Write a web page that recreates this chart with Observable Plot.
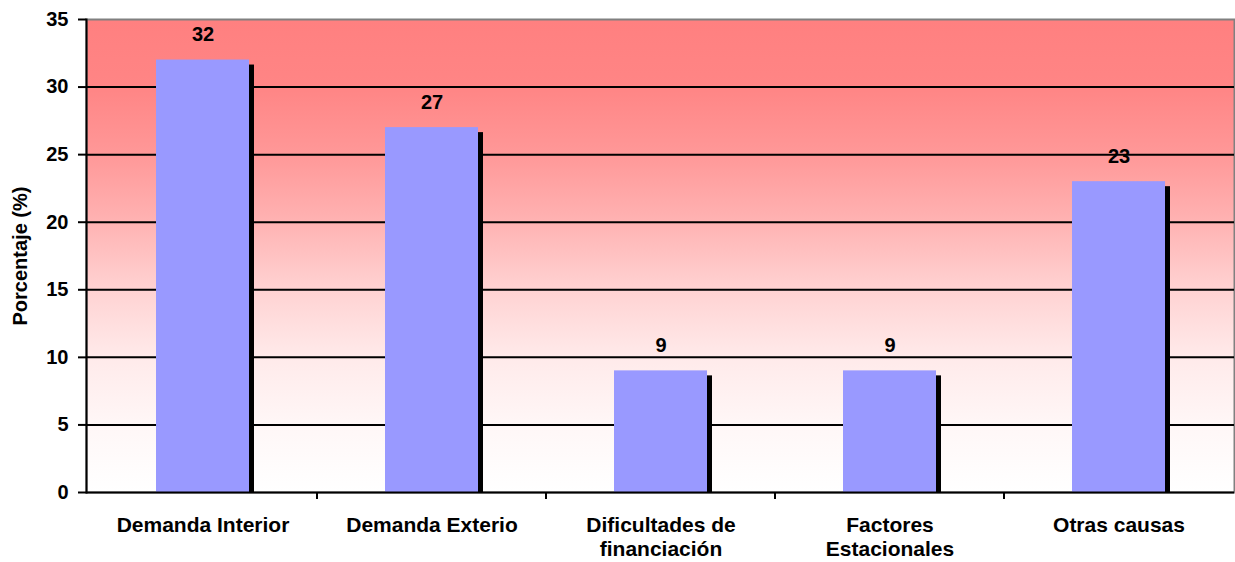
<!DOCTYPE html>
<html><head><meta charset="utf-8">
<script src="https://cdn.jsdelivr.net/npm/d3@7"></script>
<script src="https://cdn.jsdelivr.net/npm/@observablehq/plot@0.6"></script>
<style>body{margin:0;background:#fff}</style>
</head><body><div id="chart"></div>
<script>
const categories = ["Demanda Interior", "Demanda Exterio", "Dificultades de financiación", "Factores Estacionales", "Otras causas"];
const categoryLabels = ["Demanda Interior", "Demanda Exterio", "Dificultades de\nfinanciación", "Factores\nEstacionales", "Otras causas"];
const values = [32, 27, 9, 9, 23];
const yTicks = [0, 5, 10, 15, 20, 25, 30, 35];
const gridTicks = [5, 10, 15, 20, 25, 30];

const data = categories.map((c, i) => ({cat: c, value: values[i]}));
const labelMap = new Map(categories.map((c, i) => [c, categoryLabels[i]]));
const NS = "http://www.w3.org/2000/svg";

function defsMark() {
  const g = document.createElementNS(NS, "g");
  g.innerHTML = `<defs><linearGradient id="bgGrad" x1="0" y1="0" x2="0" y2="1">
    <stop offset="0" stop-color="#FF8080"/>
    <stop offset="0.143" stop-color="#FF8585"/>
    <stop offset="0.286" stop-color="#FF9898"/>
    <stop offset="0.43" stop-color="#FFB3B3"/>
    <stop offset="0.57" stop-color="#FFD2D2"/>
    <stop offset="0.714" stop-color="#FFEAEA"/>
    <stop offset="0.857" stop-color="#FFF7F7"/>
    <stop offset="1" stop-color="#FFFFFF"/></linearGradient></defs>`;
  return g;
}

function boundaryTicks(index, scales) {
  const {x, y} = scales;
  const g = document.createElementNS(NS, "g");
  const bw = x.bandwidth();
  const y0 = y(0);
  for (let i = 1; i < categories.length; i++) {
    const xb = (x(categories[i - 1]) + bw + x(categories[i])) / 2;
    const l = document.createElementNS(NS, "line");
    l.setAttribute("x1", xb); l.setAttribute("x2", xb);
    l.setAttribute("y1", y0); l.setAttribute("y2", y0 + 7);
    l.setAttribute("stroke", "black"); l.setAttribute("stroke-width", 2);
    g.appendChild(l);
  }
  return g;
}

const chart = Plot.plot({
  width: 1235, height: 562,
  marginLeft: 86, marginRight: 1, marginTop: 19, marginBottom: 70,
  style: {fontFamily: "'Liberation Sans', Arial, sans-serif", fontWeight: "bold", fontSize: "20px", color: "black", background: "white"},
  x: {domain: categories, paddingInner: 0.595, paddingOuter: 0.2975, label: null},
  y: {domain: [0, 35], label: null},
  marks: [
    defsMark,
    Plot.frame({fill: "url(#bgGrad)", stroke: "#808080", strokeWidth: 2}),
    Plot.gridY(gridTicks, {stroke: "black", strokeOpacity: 1, strokeWidth: 2}),
    Plot.barY(data, {x: "cat", y: "value", fill: "black", dx: 5, dy: 5, insetBottom: 5}),
    Plot.barY(data, {x: "cat", y: "value", fill: "#9999FF"}),
    Plot.text(data, {x: "cat", y: "value", text: d => String(d.value), dy: -25, fontSize: 20, fontWeight: "bold"}),
    Plot.ruleY([0], {stroke: "black", strokeWidth: 2}),
    Plot.frame({anchor: "left", stroke: "black", strokeWidth: 2}),
    Plot.axisY(yTicks, {tickSize: 8, tickPadding: 10, strokeWidth: 2, fontSize: 20, label: "Porcentaje (%)", labelAnchor: "center", labelArrow: "none", labelOffset: 74}),
    Plot.axisX({tickSize: 0, tickPadding: 22, fontSize: 21, tickFormat: d => labelMap.get(d), lineHeight: 1.15}),
    boundaryTicks
  ]
});
document.getElementById("chart").appendChild(chart);
</script>
</body></html>
